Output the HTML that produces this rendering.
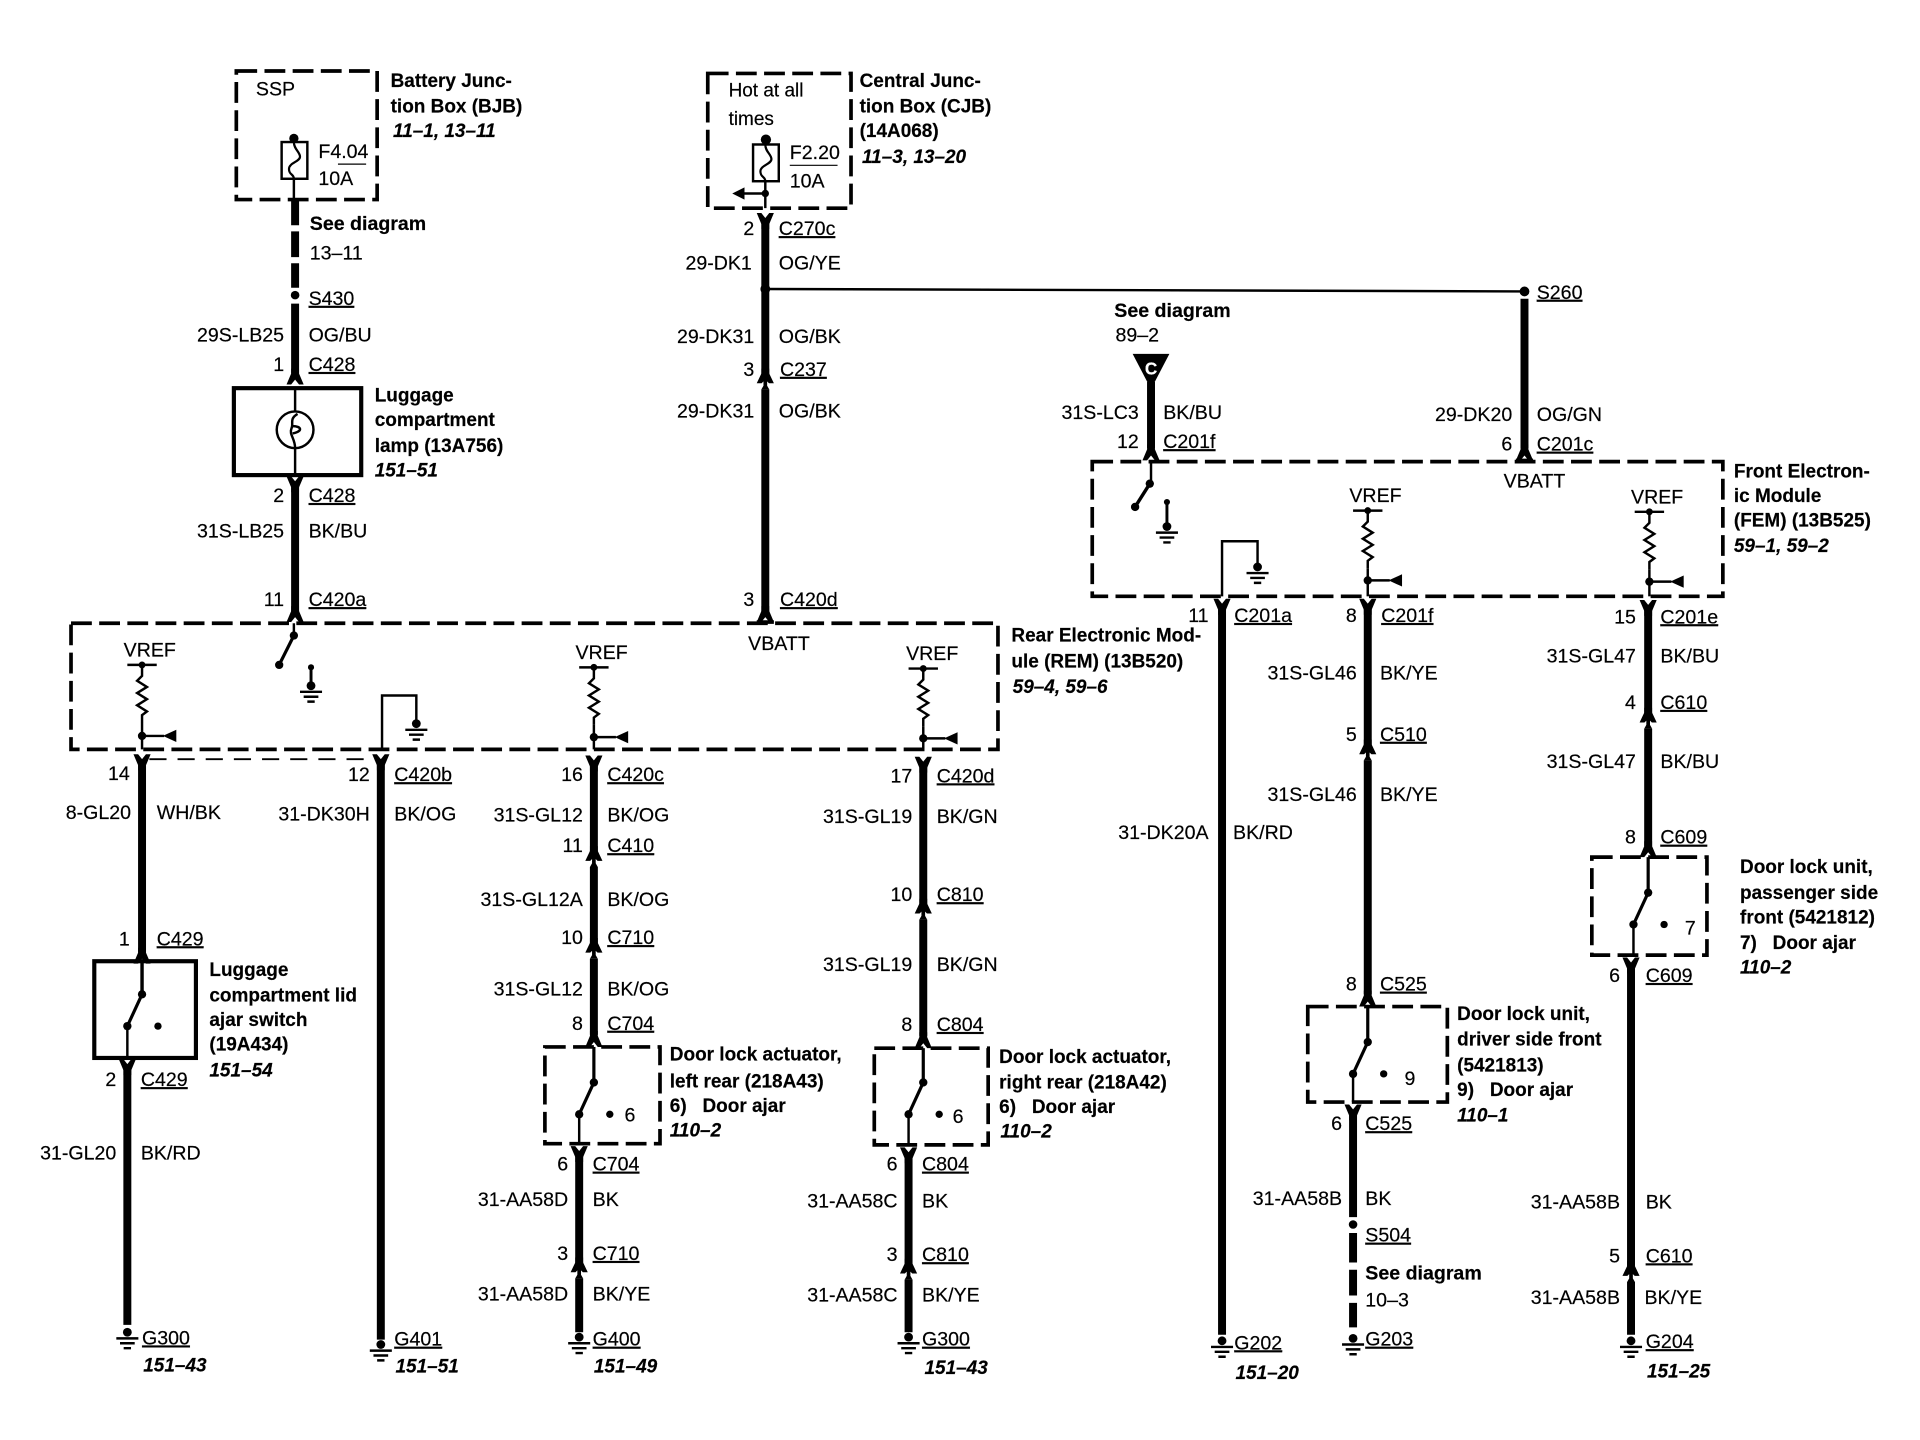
<!DOCTYPE html>
<html><head><meta charset="utf-8"><title>Wiring diagram</title>
<style>
html,body{margin:0;padding:0;background:#fff}
svg{display:block}
text{font-family:"Liberation Sans",sans-serif;font-size:16px;fill:#000;stroke:#000;stroke-width:.15}
.b{font-weight:bold;font-size:15.5px}
.i{font-weight:bold;font-style:italic;font-size:15.5px}
.sd{font-weight:bold;font-size:16px}
.e{text-anchor:end}
.u{text-decoration:underline;text-underline-offset:5px;text-decoration-thickness:1px}
.w{stroke:#000;stroke-width:6.5;fill:none}
.t{stroke:#000;stroke-width:2;fill:none}
.d{stroke:#000;stroke-width:3;fill:none;stroke-dasharray:17 6}
.s{stroke:#000;stroke-width:3.4;fill:none}
</style></head><body>
<svg width="1920" height="1440" viewBox="0 0 1568 1176" xmlns="http://www.w3.org/2000/svg">
<defs>
<path id="v" d="M-7-7L-3.2-7L0-3L3.2-7L7-7L3.2 2L3.2 6H-3.2V2Z"/>
<path id="a" d="M-7 7L-3.2 7L0 3L3.2 7L7 7L3.2-2L3.2-6H-3.2V-2Z"/>
<g id="m"><path d="M-7 6L-3 6L-1.5 4.5V8L-3.2 11H3.2L1.5 8V4.5L3 6L7 6L3.2-2V-6H-3.2V-2Z"/></g>
<g id="g"><circle cx="0" cy="-2" r="3.6"/><path d="M-9 3H9M-6 7H6M-3 11H3" stroke="#000" stroke-width="2" fill="none"/></g>
<path id="r" d="M0 0V7L-4 11L4 16L-4 21L4 26L-4 31L4 36L0 39V45" stroke="#000" stroke-width="2" fill="none"/>
<g id="al"><circle cx="0" cy="0" r="3.4"/><path d="M0 0H18" stroke="#000" stroke-width="2"/><path d="M17 0L28-5V5Z"/></g>
<g id="tee"><circle cx="0" cy="0" r="2.8"/><path d="M-12 0H12" stroke="#000" stroke-width="2"/></g>
<g id="sw"><circle cx="0" cy="0" r="3.4"/><path d="M0 0L-12 26" stroke="#000" stroke-width="2.6"/><circle cx="-12" cy="26" r="3.4"/><circle cx="13" cy="26" r="3"/></g>
<g id="fuse"><rect x="-10" y="0" width="21" height="30" stroke="#000" stroke-width="2" fill="#fff"/><path d="M0 0C0 6 5 8 5 12S-4 17-4 22S0 26 0 30" stroke="#000" stroke-width="1.8" fill="none"/></g>
</defs>

<!-- Modules -->
<rect class="d" x="193" y="58" width="115" height="105"/>
<rect class="d" x="578" y="60" width="117" height="110"/>
<rect class="d" x="58" y="509" width="757" height="103"/>
<rect class="d" x="892" y="377" width="515" height="110"/>
<rect class="d" x="445" y="855" width="94" height="79"/>
<rect class="d" x="714" y="856" width="93" height="79"/>
<rect class="d" x="1068" y="822" width="114" height="78"/>
<rect class="d" x="1300" y="700" width="94" height="80"/>
<rect class="s" x="191" y="317" width="104" height="71"/>
<rect class="s" x="77" y="785" width="83" height="79"/>

<!-- Column BJB -->
<circle cx="240" cy="113" r="3.8"/>
<use href="#fuse" x="240" y="116"/>
<path class="t" d="M240 146V163"/>
<path class="w" d="M241 163V184M241 189V210M241 215V235M241 248V305"/>
<circle cx="241" cy="241" r="3.5"/>
<use href="#a" x="241" y="307"/>
<path class="t" d="M241 317V388"/>
<circle cx="241" cy="351" r="15" stroke="#000" stroke-width="2" fill="#fff"/>
<path d="M243 338C236 342 240 346 238 350C236 355 241 358 241 366" stroke="#000" stroke-width="2" fill="none"/>
<path d="M239 348C246 348 248 352 239 354" stroke="#000" stroke-width="2" fill="none"/>
<use href="#v" x="241" y="396"/>
<path class="w" d="M241 394V500"/>
<use href="#a" x="241" y="501"/>
<path class="t" d="M240 509V519"/>
<circle cx="240" cy="519" r="3.4"/><path d="M240 519L228 543" stroke="#000" stroke-width="2.6"/><circle cx="228" cy="543" r="3.4"/>
<circle cx="254" cy="545" r="2.5"/><path d="M254 545V558" stroke="#000" stroke-width="2.4"/>
<use href="#g" x="254" y="562"/>

<!-- Column CJB -->
<circle cx="625.5" cy="114" r="4.2"/>
<use href="#fuse" x="625" y="118"/>
<path class="t" d="M625 148V170M625 158H606"/>
<circle cx="625" cy="158" r="3"/><path d="M598 158L608 153V163Z"/>
<use href="#v" x="625" y="181"/>
<path class="w" d="M625 180V307M625 318V500"/>
<circle cx="625" cy="236" r="4" fill="#000"/>
<use href="#m" x="625" y="307"/>
<path class="t" d="M625 236L1245 238"/>
<use href="#a" x="625" y="501"/>
<path d="M618 508H632" stroke="#000" stroke-width="3"/>

<!-- S260 -->
<circle cx="1245" cy="238" r="4"/>
<path class="w" d="M1245 244V366"/>
<use href="#a" x="1245" y="369"/>
<path d="M1238 376H1252" stroke="#000" stroke-width="3"/>

<!-- Triangle C -->
<path d="M925 289H955L943 312H937Z"/>
<text x="940" y="306" class="b" text-anchor="middle" style="fill:#fff;stroke:#fff;font-size:14px">C</text>
<path class="w" d="M940 312V366"/>
<use href="#a" x="940" y="369"/>
<path class="t" d="M940 377V395"/>
<circle cx="939" cy="395" r="3.4"/><path d="M939 395L927 414" stroke="#000" stroke-width="2.8"/><circle cx="927" cy="414" r="3.4"/>
<circle cx="953" cy="410" r="2.5"/><path d="M953 410V428" stroke="#000" stroke-width="2.4"/>
<use href="#g" x="953" y="432"/>

<!-- REM internals -->
<use href="#tee" x="116" y="543"/><use href="#r" x="116" y="545"/><path class="t" d="M116 590V612"/><use href="#al" x="116" y="601"/>
<use href="#v" x="116" y="623"/>
<path d="M122 620H308" stroke="#000" stroke-width="1.6" stroke-dasharray="14 9"/>
<path class="w" d="M116 622V778"/>
<use href="#a" x="116" y="780"/>
<path class="t" d="M116 785V812" style="stroke-width:2.8"/>
<use href="#sw" x="116" y="812"/>
<path class="t" d="M104 838V864"/>
<use href="#v" x="104" y="872"/>
<path class="w" d="M104 870V1082"/>
<use href="#g" x="104" y="1090"/>

<path class="t" d="M312 612V568H340V591"/>
<use href="#g" x="340" y="593"/>
<use href="#v" x="311" y="623"/>
<path class="w" d="M311 622V1094"/>
<use href="#g" x="311" y="1100"/>

<use href="#tee" x="485" y="545"/><use href="#r" x="485" y="547"/><path class="t" d="M485 592V612"/><use href="#al" x="485" y="602"/>
<use href="#v" x="485" y="624"/>
<path class="w" d="M485 622V697M485 708V772M485 783V845"/>
<use href="#m" x="485" y="697"/>
<use href="#m" x="485" y="772"/>
<use href="#a" x="485" y="848"/>
<path class="t" d="M485 855V884" style="stroke-width:2.6"/>
<use href="#sw" x="485" y="884"/>
<path class="t" d="M473 912V934"/>
<use href="#v" x="473" y="943"/>
<path class="w" d="M473 942V1033M473 1044V1088"/>
<use href="#m" x="473" y="1033"/>
<use href="#g" x="473" y="1094"/>

<use href="#tee" x="754" y="546"/><use href="#r" x="754" y="548"/><path class="t" d="M754 593V612"/><use href="#al" x="754" y="603"/>
<use href="#v" x="754" y="625"/>
<path class="w" d="M754 623V740M754 751V846"/>
<use href="#m" x="754" y="740"/>
<use href="#a" x="754" y="849"/>
<path class="t" d="M754 856V884" style="stroke-width:2.6"/>
<use href="#sw" x="754" y="884"/>
<path class="t" d="M742 912V935"/>
<use href="#v" x="742" y="944"/>
<path class="w" d="M742 943V1034M742 1045V1088"/>
<use href="#m" x="742" y="1034"/>
<use href="#g" x="742" y="1094"/>

<!-- FEM internals -->
<path class="t" d="M998 487V442H1027V463"/>
<use href="#g" x="1027" y="465"/>
<use href="#v" x="998" y="496"/>
<path class="w" d="M998 495V1090"/>
<use href="#g" x="998" y="1097"/>

<use href="#tee" x="1117" y="417"/><use href="#r" x="1117" y="419"/><path class="t" d="M1117 464V487"/><use href="#al" x="1117" y="474"/>
<use href="#v" x="1117" y="496"/>
<path class="w" d="M1117 495V610M1117 621V812"/>
<use href="#m" x="1117" y="610"/>
<use href="#a" x="1117" y="815"/>
<path class="t" d="M1117 822V851" style="stroke-width:2.6"/>
<use href="#sw" x="1117" y="851"/>
<path class="t" d="M1105 879V900"/>
<use href="#v" x="1105" y="909"/>
<path class="w" d="M1105 908V994M1105 1007V1031M1105 1037V1058M1105 1064V1084"/>
<circle cx="1105" cy="1000" r="3.5"/>
<use href="#g" x="1105" y="1095"/>

<use href="#tee" x="1347" y="418"/><use href="#r" x="1347" y="420"/><path class="t" d="M1347 465V487"/><use href="#al" x="1347" y="475"/>
<use href="#v" x="1346" y="497"/>
<path class="w" d="M1346 496V584M1346 595V691"/>
<use href="#m" x="1346" y="584"/>
<use href="#a" x="1346" y="693"/>
<path class="t" d="M1346 700V729" style="stroke-width:2.6"/>
<use href="#sw" x="1346" y="729"/>
<path class="t" d="M1334 757V780"/>
<use href="#v" x="1332" y="789"/>
<path class="w" d="M1332 788V1036M1332 1047V1090"/>
<use href="#m" x="1332" y="1036"/>
<use href="#g" x="1332" y="1097"/>

<!-- Text: BJB -->
<text x="209" y="78">SSP</text>
<text x="260" y="129">F4.04</text>
<text x="260" y="151">10A</text>
<path d="M276 134H299" stroke="#000" stroke-width="1"/>
<text x="319" y="71" class="b">Battery Junc-</text>
<text x="319" y="92" class="b">tion Box (BJB)</text>
<text x="321" y="112" class="i">11–1, 13–11</text>
<text x="253" y="188" class="sd">See diagram</text>
<text x="253" y="212">13–11</text>
<text x="252" y="249" class="u">S430</text>
<text x="232" y="279" class="e">29S-LB25</text><text x="252" y="279">OG/BU</text>
<text x="232" y="303" class="e">1</text><text x="252" y="303" class="u">C428</text>
<text x="306" y="328" class="b">Luggage</text>
<text x="306" y="348" class="b">compartment</text>
<text x="306" y="369" class="b">lamp (13A756)</text>
<text x="306" y="389" class="i">151–51</text>
<text x="232" y="410" class="e">2</text><text x="252" y="410" class="u">C428</text>
<text x="232" y="439" class="e">31S-LB25</text><text x="252" y="439">BK/BU</text>
<text x="232" y="495" class="e">11</text><text x="252" y="495" class="u">C420a</text>

<!-- Text: CJB -->
<text x="595" y="79" style="font-size:15.5px">Hot at all</text>
<text x="595" y="102" style="font-size:15.5px">times</text>
<text x="645" y="130">F2.20</text>
<text x="645" y="153">10A</text>
<path d="M645 135H684" stroke="#000" stroke-width="1"/>
<text x="702" y="71" class="b">Central Junc-</text>
<text x="702" y="92" class="b">tion Box (CJB)</text>
<text x="702" y="112" class="b">(14A068)</text>
<text x="704" y="133" class="i">11–3, 13–20</text>
<text x="616" y="192" class="e">2</text><text x="636" y="192" class="u">C270c</text>
<text x="614" y="220" class="e">29-DK1</text><text x="636" y="220">OG/YE</text>
<text x="616" y="280" class="e">29-DK31</text><text x="636" y="280">OG/BK</text>
<text x="616" y="307" class="e">3</text><text x="637" y="307" class="u">C237</text>
<text x="616" y="341" class="e">29-DK31</text><text x="636" y="341">OG/BK</text>
<text x="616" y="495" class="e">3</text><text x="637" y="495" class="u">C420d</text>
<text x="611" y="531">VBATT</text>

<!-- Text: REM -->
<text x="826" y="524" class="b">Rear Electronic Mod-</text>
<text x="826" y="545" class="b">ule (REM) (13B520)</text>
<text x="827" y="566" class="i">59–4, 59–6</text>
<text x="101" y="536">VREF</text>
<text x="470" y="538">VREF</text>
<text x="740" y="539">VREF</text>

<text x="106" y="637" class="e">14</text>
<text x="107" y="669" class="e">8-GL20</text><text x="128" y="669">WH/BK</text>
<text x="106" y="772" class="e">1</text><text x="128" y="772" class="u">C429</text>
<text x="171" y="797" class="b">Luggage</text>
<text x="171" y="818" class="b">compartment lid</text>
<text x="171" y="838" class="b">ajar switch</text>
<text x="171" y="858" class="b">(19A434)</text>
<text x="171" y="879" class="i">151–54</text>
<text x="95" y="887" class="e">2</text><text x="115" y="887" class="u">C429</text>
<text x="95" y="947" class="e">31-GL20</text><text x="115" y="947">BK/RD</text>
<text x="116" y="1098" class="u">G300</text>
<text x="117" y="1120" class="i">151–43</text>

<text x="302" y="638" class="e">12</text><text x="322" y="638" class="u">C420b</text>
<text x="302" y="670" class="e">31-DK30H</text><text x="322" y="670">BK/OG</text>
<text x="322" y="1099" class="u">G401</text>
<text x="323" y="1121" class="i">151–51</text>

<text x="476" y="638" class="e">16</text><text x="496" y="638" class="u">C420c</text>
<text x="476" y="671" class="e">31S-GL12</text><text x="496" y="671">BK/OG</text>
<text x="476" y="696" class="e">11</text><text x="496" y="696" class="u">C410</text>
<text x="476" y="740" class="e">31S-GL12A</text><text x="496" y="740">BK/OG</text>
<text x="476" y="771" class="e">10</text><text x="496" y="771" class="u">C710</text>
<text x="476" y="813" class="e">31S-GL12</text><text x="496" y="813">BK/OG</text>
<text x="476" y="841" class="e">8</text><text x="496" y="841" class="u">C704</text>
<text x="547" y="866" class="b">Door lock actuator,</text>
<text x="547" y="888" class="b">left rear (218A43)</text>
<text x="547" y="908" class="b" xml:space="preserve">6)   Door ajar</text>
<text x="547" y="928" class="i">110–2</text>
<text x="510" y="916">6</text>
<text x="464" y="956" class="e">6</text><text x="484" y="956" class="u">C704</text>
<text x="464" y="985" class="e">31-AA58D</text><text x="484" y="985">BK</text>
<text x="464" y="1029" class="e">3</text><text x="484" y="1029" class="u">C710</text>
<text x="464" y="1062" class="e">31-AA58D</text><text x="484" y="1062">BK/YE</text>
<text x="484" y="1099" class="u">G400</text>
<text x="485" y="1121" class="i">151–49</text>

<text x="745" y="639" class="e">17</text><text x="765" y="639" class="u">C420d</text>
<text x="745" y="672" class="e">31S-GL19</text><text x="765" y="672">BK/GN</text>
<text x="745" y="736" class="e">10</text><text x="765" y="736" class="u">C810</text>
<text x="745" y="793" class="e">31S-GL19</text><text x="765" y="793">BK/GN</text>
<text x="745" y="842" class="e">8</text><text x="765" y="842" class="u">C804</text>
<text x="816" y="868" class="b">Door lock actuator,</text>
<text x="816" y="889" class="b">right rear (218A42)</text>
<text x="816" y="909" class="b" xml:space="preserve">6)   Door ajar</text>
<text x="817" y="929" class="i">110–2</text>
<text x="778" y="917">6</text>
<text x="733" y="956" class="e">6</text><text x="753" y="956" class="u">C804</text>
<text x="733" y="986" class="e">31-AA58C</text><text x="753" y="986">BK</text>
<text x="733" y="1030" class="e">3</text><text x="753" y="1030" class="u">C810</text>
<text x="733" y="1063" class="e">31-AA58C</text><text x="753" y="1063">BK/YE</text>
<text x="753" y="1099" class="u">G300</text>
<text x="755" y="1122" class="i">151–43</text>

<!-- Text: FEM -->
<text x="910" y="259" class="sd">See diagram</text>
<text x="911" y="279">89–2</text>
<text x="930" y="342" class="e">31S-LC3</text><text x="950" y="342">BK/BU</text>
<text x="930" y="366" class="e">12</text><text x="950" y="366" class="u">C201f</text>
<text x="1255" y="244" class="u">S260</text>
<text x="1235" y="344" class="e">29-DK20</text><text x="1255" y="344">OG/GN</text>
<text x="1235" y="368" class="e">6</text><text x="1255" y="368" class="u">C201c</text>
<text x="1228" y="398">VBATT</text>
<text x="1102" y="410">VREF</text>
<text x="1332" y="411">VREF</text>
<text x="1416" y="390" class="b">Front Electron-</text>
<text x="1416" y="410" class="b">ic Module</text>
<text x="1416" y="430" class="b">(FEM) (13B525)</text>
<text x="1416" y="451" class="i">59–1, 59–2</text>

<text x="987" y="508" class="e">11</text><text x="1008" y="508" class="u">C201a</text>
<text x="987" y="685" class="e">31-DK20A</text><text x="1007" y="685">BK/RD</text>
<text x="1008" y="1102" class="u">G202</text>
<text x="1009" y="1126" class="i">151–20</text>

<text x="1108" y="508" class="e">8</text><text x="1128" y="508" class="u">C201f</text>
<text x="1108" y="555" class="e">31S-GL46</text><text x="1127" y="555">BK/YE</text>
<text x="1108" y="605" class="e">5</text><text x="1127" y="605" class="u">C510</text>
<text x="1108" y="654" class="e">31S-GL46</text><text x="1127" y="654">BK/YE</text>
<text x="1108" y="809" class="e">8</text><text x="1127" y="809" class="u">C525</text>
<text x="1190" y="833" class="b">Door lock unit,</text>
<text x="1190" y="854" class="b">driver side front</text>
<text x="1190" y="875" class="b">(5421813)</text>
<text x="1190" y="895" class="b" xml:space="preserve">9)   Door ajar</text>
<text x="1190" y="916" class="i">110–1</text>
<text x="1147" y="886">9</text>
<text x="1096" y="923" class="e">6</text><text x="1115" y="923" class="u">C525</text>
<text x="1096" y="984" class="e">31-AA58B</text><text x="1115" y="984">BK</text>
<text x="1115" y="1014" class="u">S504</text>
<text x="1115" y="1045" class="sd">See diagram</text>
<text x="1115" y="1067">10–3</text>
<text x="1115" y="1099" class="u">G203</text>

<text x="1336" y="509" class="e">15</text><text x="1356" y="509" class="u">C201e</text>
<text x="1336" y="541" class="e">31S-GL47</text><text x="1356" y="541">BK/BU</text>
<text x="1336" y="579" class="e">4</text><text x="1356" y="579" class="u">C610</text>
<text x="1336" y="627" class="e">31S-GL47</text><text x="1356" y="627">BK/BU</text>
<text x="1336" y="689" class="e">8</text><text x="1356" y="689" class="u">C609</text>
<text x="1421" y="713" class="b">Door lock unit,</text>
<text x="1421" y="734" class="b">passenger side</text>
<text x="1421" y="754" class="b">front (5421812)</text>
<text x="1421" y="775" class="b" xml:space="preserve">7)   Door ajar</text>
<text x="1421" y="795" class="i">110–2</text>
<text x="1376" y="763">7</text>
<text x="1323" y="802" class="e">6</text><text x="1344" y="802" class="u">C609</text>
<text x="1323" y="987" class="e">31-AA58B</text><text x="1344" y="987">BK</text>
<text x="1323" y="1031" class="e">5</text><text x="1344" y="1031" class="u">C610</text>
<text x="1323" y="1065" class="e">31-AA58B</text><text x="1343" y="1065">BK/YE</text>
<text x="1344" y="1101" class="u">G204</text>
<text x="1345" y="1125" class="i">151–25</text>
</svg>
</body></html>
